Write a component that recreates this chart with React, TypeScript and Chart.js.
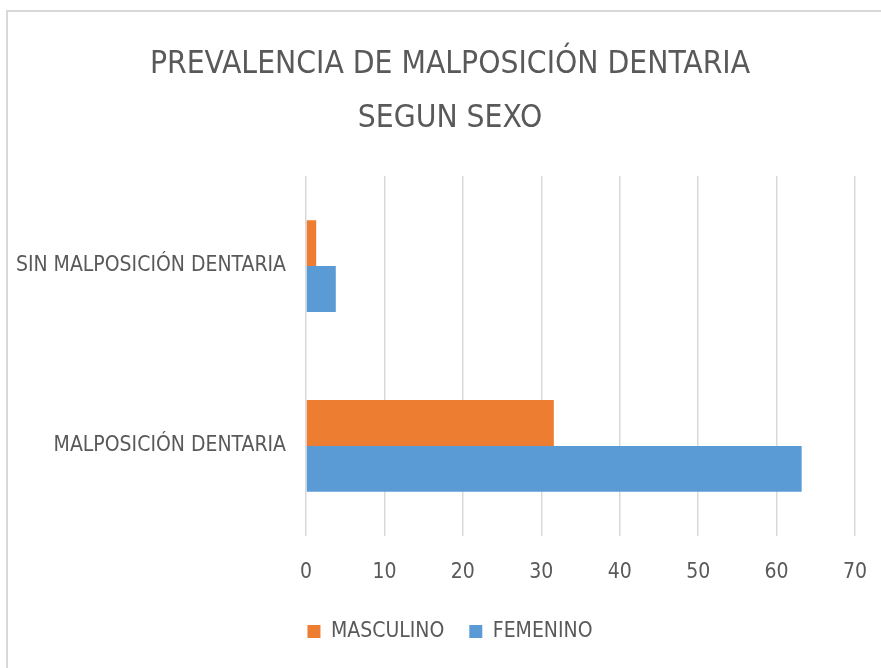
import React, { useEffect, useRef } from "react";
import { Chart, registerables } from "chart.js";

Chart.register(...registerables);

const categories = ["SIN MALPOSICIÓN DENTARIA", "MALPOSICIÓN DENTARIA"];
const masculino = [1.3, 31.6];
const femenino = [3.8, 63.2];
const titleLines = ["PREVALENCIA DE MALPOSICIÓN DENTARIA", "SEGUN SEXO"];

const FONT = "'Liberation Sans Narrow', 'DejaVu Sans Condensed', sans-serif";
const TEXT = "#595959";

export default function App() {
  const ref = useRef<HTMLCanvasElement | null>(null);

  useEffect(() => {
    if (!ref.current) return;
    const chart = new Chart(ref.current, {
      type: "bar",
      data: {
        labels: categories,
        datasets: [
          { label: "MASCULINO", data: masculino, backgroundColor: "#ED7D31", borderWidth: 0 },
          { label: "FEMENINO", data: femenino, backgroundColor: "#5B9BD5", borderWidth: 0 },
        ],
      },
      options: {
        indexAxis: "y",
        animation: false,
        responsive: false,
        maintainAspectRatio: false,
        layout: { padding: { top: 26, left: 0, right: 6, bottom: 16 } },
        datasets: { bar: { categoryPercentage: 0.51, barPercentage: 1 } },
        scales: {
          x: {
            min: 0,
            max: 70,
            ticks: { stepSize: 10, color: TEXT, font: { family: FONT, size: 21 }, padding: 24 },
            grid: { color: "#d9d9d9", lineWidth: 1.5, drawTicks: false },
            border: { display: false },
            afterFit: (s: any) => {
              s.paddingRight = 43;
              s.height = s.height - 13;
            },
          },
          y: {
            ticks: { color: TEXT, font: { family: FONT, size: 21 }, padding: 20 },
            grid: { display: false, drawTicks: false },
            border: { display: false },
            afterFit: (s: any) => {
              s.width = 298;
            },
          },
        },
        plugins: {
          title: {
            display: true,
            text: titleLines,
            color: TEXT,
            font: { family: FONT, size: 31.5, weight: "normal", lineHeight: 1.7 },
            padding: { top: 0, bottom: 31 },
          },
          legend: {
            position: "bottom",
            labels: {
              color: TEXT,
              font: { family: FONT, size: 21 },
              boxWidth: 13,
              boxHeight: 13,
              padding: 25,
            },
          },
          tooltip: { enabled: false },
        },
      },
    });
    return () => chart.destroy();
  }, []);

  return (
    <div style={{ position: "fixed", left: 0, top: 0, width: 881, height: 668, overflow: "hidden", background: "#fff" }}>
      <div
        style={{
          position: "absolute",
          left: 6,
          top: 10,
          width: 892,
          height: 658,
          boxSizing: "border-box",
          borderTop: "2px solid #d9d9d9",
          borderLeft: "2px solid #d9d9d9",
        }}
      >
        <canvas ref={ref} width={890} height={656} style={{ display: "block", width: 890, height: 656 }} />
      </div>
    </div>
  );
}
